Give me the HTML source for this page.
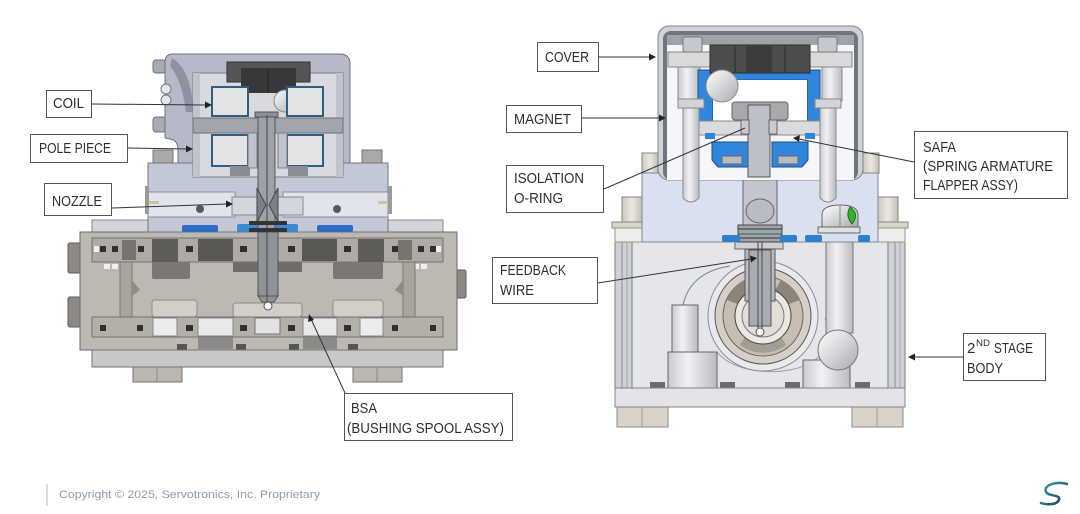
<!DOCTYPE html>
<html>
<head>
<meta charset="utf-8">
<style>
html,body{margin:0;padding:0;background:#fff;}
body{width:1080px;height:514px;overflow:hidden;}
svg{display:block;}
text{font-family:"Liberation Sans",sans-serif;fill:#2e2e2e;}
</style>
</head>
<body>
<svg width="1080" height="514" viewBox="0 0 1080 514" xmlns="http://www.w3.org/2000/svg">
<defs>
  <linearGradient id="ball" x1="0" y1="0" x2="1" y2="1">
    <stop offset="0" stop-color="#ffffff"/>
    <stop offset="1" stop-color="#a9abb0"/>
  </linearGradient>
  <linearGradient id="cyl" x1="0" y1="0" x2="1" y2="0">
    <stop offset="0" stop-color="#c9cace"/>
    <stop offset="0.4" stop-color="#f2f2f4"/>
    <stop offset="1" stop-color="#b9bbc0"/>
  </linearGradient>
  <linearGradient id="beige" x1="0" y1="0" x2="1" y2="0">
    <stop offset="0" stop-color="#cfc9be"/>
    <stop offset="0.5" stop-color="#ece8e1"/>
    <stop offset="1" stop-color="#c4beb3"/>
  </linearGradient>
  <linearGradient id="logo" x1="0" y1="0" x2="1" y2="1">
    <stop offset="0" stop-color="#3aa0a8"/>
    <stop offset="1" stop-color="#1d3a60"/>
  </linearGradient>
</defs>

<!-- ================= LEFT ASSEMBLY ================= -->
<!-- side connectors -->
<rect x="68" y="243" width="13" height="30" rx="2" fill="#8d8983" stroke="#5e5b57"/>
<rect x="68" y="297" width="13" height="30" rx="2" fill="#8d8983" stroke="#5e5b57"/>
<rect x="456" y="270" width="10" height="28" rx="2" fill="#8d8983" stroke="#5e5b57"/>
<!-- feet -->
<rect x="133" y="366" width="49" height="16" fill="#bbb6ae" stroke="#77736d"/>
<line x1="157" y1="368" x2="157" y2="382" stroke="#8b867f"/>
<rect x="353" y="366" width="49" height="16" fill="#bbb6ae" stroke="#77736d"/>
<line x1="377" y1="368" x2="377" y2="382" stroke="#8b867f"/>
<!-- thin plate -->
<rect x="92" y="220" width="351" height="12" fill="#d2d4da" stroke="#858892"/>
<!-- main body -->
<rect x="80" y="232" width="377" height="118" fill="#bcb8b2" stroke="#6c6965"/>
<!-- upper row -->
<rect x="92" y="238" width="351" height="24" fill="#aeaaa4" stroke="#75716c"/>
<rect x="152" y="239" width="26" height="23" fill="#5f5d5a"/>
<rect x="198" y="239" width="35" height="22" fill="#5a5855"/>
<rect x="302" y="239" width="35" height="22" fill="#5a5855"/>
<rect x="358" y="239" width="26" height="23" fill="#5f5d5a"/>
<g fill="#2f2f2f">
  <rect x="100" y="246" width="6" height="6"/><rect x="112" y="246" width="6" height="6"/>
  <rect x="138" y="246" width="6" height="6"/><rect x="186" y="246" width="7" height="6"/>
  <rect x="240" y="246" width="7" height="6"/><rect x="288" y="246" width="7" height="6"/>
  <rect x="344" y="246" width="7" height="6"/><rect x="392" y="246" width="6" height="6"/>
  <rect x="418" y="246" width="6" height="6"/><rect x="430" y="246" width="6" height="6"/>
</g>
<g fill="#f0f0f0">
  <rect x="94" y="246" width="5" height="6"/><rect x="436" y="246" width="5" height="6"/>
  <rect x="104" y="264" width="6" height="5"/><rect x="112" y="264" width="6" height="5"/>
  <rect x="413" y="264" width="6" height="5"/><rect x="421" y="264" width="6" height="5"/>
</g>
<rect x="122" y="240" width="14" height="20" fill="#777470"/>
<rect x="398" y="240" width="14" height="20" fill="#777470"/>
<!-- cavities -->
<rect x="152" y="262" width="38" height="17" rx="2" fill="#7a7774"/>
<rect x="233" y="262" width="69" height="10" fill="#6e6b68"/>
<rect x="333" y="262" width="50" height="17" rx="2" fill="#7a7774"/>
<rect x="120" y="262" width="12" height="55" fill="#a8a49e" stroke="#7b7873"/>
<rect x="403" y="262" width="12" height="55" fill="#a8a49e" stroke="#7b7873"/>
<path d="M132,280 L140,290 L132,296 Z" fill="#8f8b85"/>
<path d="M403,280 L395,290 L403,296 Z" fill="#8f8b85"/>
<rect x="152" y="300" width="45" height="17" rx="3" fill="#d2cec8" stroke="#8d8a85"/>
<rect x="233" y="303" width="69" height="14" rx="3" fill="#d2cec8" stroke="#8d8a85"/>
<rect x="333" y="300" width="50" height="17" rx="3" fill="#d2cec8" stroke="#8d8a85"/>
<!-- lower row -->
<rect x="92" y="317" width="351" height="20" fill="#b3afa9" stroke="#75716c"/>
<rect x="153" y="318" width="24" height="18" fill="#ececec" stroke="#888"/>
<rect x="198" y="318" width="35" height="18" fill="#e9e9e9" stroke="#888"/>
<rect x="255" y="318" width="25" height="16" fill="#e2e2e2" stroke="#777"/>
<rect x="303" y="318" width="34" height="18" fill="#e9e9e9" stroke="#888"/>
<rect x="360" y="318" width="23" height="18" fill="#ececec" stroke="#888"/>
<g fill="#2f2f2f">
  <rect x="100" y="325" width="6" height="6"/><rect x="137" y="325" width="6" height="6"/>
  <rect x="186" y="325" width="7" height="6"/><rect x="240" y="325" width="7" height="6"/>
  <rect x="288" y="325" width="7" height="6"/><rect x="344" y="325" width="7" height="6"/>
  <rect x="392" y="325" width="6" height="6"/><rect x="430" y="325" width="6" height="6"/>
</g>
<rect x="198" y="337" width="35" height="12" fill="#8c8a88"/>
<rect x="303" y="337" width="34" height="12" fill="#8c8a88"/>
<rect x="177" y="344" width="10" height="6" fill="#555"/>
<rect x="236" y="344" width="10" height="6" fill="#555"/>
<rect x="289" y="344" width="10" height="6" fill="#555"/>
<rect x="348" y="344" width="10" height="6" fill="#555"/>
<!-- bottom plate -->
<rect x="92" y="350" width="351" height="17" fill="#c9c8c6" stroke="#75736f"/>

<!-- nozzle block -->
<rect x="148" y="163" width="240" height="69" fill="#c3c8d6" stroke="#727684"/>
<rect x="148" y="192" width="87" height="25" fill="#e1e4ec" stroke="#8a8e9a"/>
<rect x="283" y="192" width="105" height="25" fill="#e1e4ec" stroke="#8a8e9a"/>
<rect x="232" y="197" width="25" height="18" fill="#d3d6dd" stroke="#888"/>
<rect x="278" y="197" width="25" height="18" fill="#d3d6dd" stroke="#888"/>
<circle cx="200" cy="209" r="4" fill="#55585f"/>
<circle cx="337" cy="209" r="4" fill="#55585f"/>
<rect x="149" y="201" width="10" height="3" fill="#c9c79a"/>
<rect x="378" y="201" width="10" height="3" fill="#c9c79a"/>
<rect x="145" y="186" width="4" height="28" fill="#9a9a98"/>
<rect x="388" y="186" width="4" height="28" fill="#9a9a98"/>
<!-- bolt heads on block -->
<rect x="153" y="150" width="20" height="13" fill="#a9a9a6" stroke="#777"/>
<rect x="362" y="150" width="20" height="13" fill="#a9a9a6" stroke="#777"/>
<!-- blue seals -->
<rect x="182" y="225" width="36" height="7" rx="2" fill="#2e6cc4"/>
<rect x="237" y="224" width="61" height="8" rx="2" fill="#3a8ad6"/>
<rect x="317" y="225" width="36" height="7" rx="2" fill="#2e6cc4"/>

<!-- housing -->
<rect x="153" y="60" width="13" height="13" rx="3" fill="#a7abb5" stroke="#6e727c"/>
<rect x="153" y="117" width="13" height="15" rx="3" fill="#a7abb5" stroke="#6e727c"/>
<path d="M178,163 L178,150 Q178,140 170,139 L165,138 L165,62 Q165,54 173,54 L340,54 Q350,54 350,64 L350,163 Z" fill="#b6bac8" stroke="#6e7280"/>
<path d="M172,58 Q192,70 193,112 L186,112 Q182,80 170,66 Z" fill="#8e929f"/>
<circle cx="166" cy="89" r="5" fill="#e6e7ea" stroke="#777"/>
<circle cx="166" cy="100" r="5" fill="#e6e7ea" stroke="#777"/>
<!-- cavity -->
<rect x="193" y="73" width="150" height="104" fill="#d9dadf" stroke="#767a86"/>
<rect x="193" y="73" width="7" height="104" fill="#c1c4cd"/>
<rect x="336" y="73" width="7" height="104" fill="#c1c4cd"/>
<!-- magnet -->
<rect x="227" y="62" width="83" height="20" fill="#555557" stroke="#333"/>
<rect x="241" y="68" width="55" height="25" fill="#38383a"/>
<line x1="268" y1="68" x2="268" y2="93" stroke="#222"/>
<!-- ball -->
<circle cx="285" cy="101" r="11" fill="url(#ball)" stroke="#888"/>
<!-- coils -->
<rect x="212" y="87" width="36" height="29" fill="#e3e3e6" stroke="#2e5f80" stroke-width="2"/>
<rect x="287" y="87" width="36" height="29" fill="#e3e3e6" stroke="#2e5f80" stroke-width="2"/>
<rect x="193" y="118" width="150" height="15" fill="#a2a5ad" stroke="#6b6e76"/>
<rect x="212" y="135" width="36" height="31" fill="#e3e3e6" stroke="#2e5f80" stroke-width="2"/>
<rect x="287" y="135" width="36" height="31" fill="#e3e3e6" stroke="#2e5f80" stroke-width="2"/>
<rect x="230" y="166" width="20" height="10" fill="#8a8d95"/>
<rect x="288" y="166" width="20" height="10" fill="#8a8d95"/>
<!-- shaft -->
<rect x="248" y="133" width="9" height="35" fill="#c0c3cb" stroke="#7a7d86"/>
<rect x="278" y="133" width="9" height="35" fill="#c0c3cb" stroke="#7a7d86"/>
<rect x="258" y="115" width="17" height="118" fill="#9ea1a9" stroke="#555"/>
<rect x="255" y="112" width="23" height="5" fill="#8d9098" stroke="#555"/>
<path d="M257,188 L266,205 L257,222 Z" fill="#7d8088" stroke="#444"/>
<path d="M278,188 L269,205 L278,222 Z" fill="#7d8088" stroke="#444"/>
<rect x="258" y="232" width="20" height="64" fill="#8f9299" stroke="#555"/>
<path d="M258,296 L262,302 L274,302 L278,296 Z" fill="#8f9299" stroke="#555"/>
<line x1="267" y1="115" x2="267" y2="302" stroke="#444" stroke-width="1"/>
<circle cx="268" cy="306" r="4" fill="#f4f4f4" stroke="#555"/>
<rect x="249" y="221" width="38" height="4" fill="#333"/>
<rect x="249" y="228" width="38" height="4" fill="#333"/>

<!-- ================= RIGHT ASSEMBLY ================= -->
<!-- feet -->
<rect x="617" y="407" width="51" height="20" fill="#d8d2c8" stroke="#8f8a82"/>
<line x1="642" y1="408" x2="642" y2="427" stroke="#a39d94"/>
<rect x="852" y="407" width="51" height="20" fill="#d8d2c8" stroke="#8f8a82"/>
<line x1="877" y1="408" x2="877" y2="427" stroke="#a39d94"/>
<!-- lower body -->
<rect x="615" y="242" width="290" height="146" fill="#e4e6ea" stroke="#6f737b"/>
<rect x="615" y="242" width="17" height="146" fill="#cfd1d6" stroke="#7b7f87"/>
<line x1="622" y1="242" x2="622" y2="388" stroke="#8a8e96"/>
<line x1="627" y1="242" x2="627" y2="388" stroke="#a4a8b0"/>
<rect x="888" y="242" width="17" height="146" fill="#cfd1d6" stroke="#7b7f87"/>
<line x1="895" y1="242" x2="895" y2="388" stroke="#8a8e96"/>
<line x1="900" y1="242" x2="900" y2="388" stroke="#a4a8b0"/>
<!-- volute -->
<path d="M683,305 C688,282 705,270 730,266" fill="none" stroke="#7d8087"/>
<path d="M717,352 C735,375 790,378 815,360 C830,348 830,330 825,318" fill="none" stroke="#9a9da3"/>
<circle cx="763" cy="316" r="55" fill="#e9eaed" stroke="#8b8e94"/>
<circle cx="763" cy="316" r="48" fill="#d6cfc6" stroke="#555"/>
<circle cx="763" cy="316" r="40" fill="#c7beb2" stroke="#6b655d"/>
<path d="M727,300 A38,38 0 0 1 745,280 L752,292 A25,25 0 0 0 740,305 Z" fill="#8a847b"/>
<path d="M800,300 A38,38 0 0 0 781,280 L774,292 A25,25 0 0 1 786,305 Z" fill="#8a847b"/>
<path d="M740,345 A38,38 0 0 0 786,345 L780,335 A25,25 0 0 1 746,335 Z" fill="#a59d92"/>
<circle cx="763" cy="316" r="28" fill="#ebe7e2" stroke="#444"/>
<circle cx="763" cy="316" r="21" fill="#e2ddd6" stroke="#777"/>
<!-- left cylinder -->
<rect x="672" y="305" width="26" height="47" fill="url(#cyl)" stroke="#666"/>
<rect x="668" y="352" width="49" height="36" fill="url(#cyl)" stroke="#666"/>
<!-- right tube + ball -->
<rect x="826" y="233" width="27" height="100" fill="url(#cyl)" stroke="#777"/>
<rect x="803" y="360" width="47" height="28" fill="url(#cyl)" stroke="#666"/>
<circle cx="838" cy="350" r="20" fill="url(#ball)" stroke="#777"/>
<!-- bottom bumps -->
<rect x="650" y="382" width="15" height="6" fill="#6a6a6a"/>
<rect x="720" y="382" width="15" height="6" fill="#6a6a6a"/>
<rect x="785" y="382" width="15" height="6" fill="#6a6a6a"/>
<rect x="855" y="382" width="15" height="6" fill="#6a6a6a"/>
<!-- bottom plate -->
<rect x="615" y="388" width="290" height="19" fill="#e3e4e7" stroke="#7f838b"/>
<!-- shaft holder in body -->
<rect x="735" y="242" width="48" height="7" fill="#cfd0d3" stroke="#666"/>
<rect x="745" y="249" width="30" height="52" fill="#b8babf" stroke="#555"/>
<rect x="749" y="250" width="22" height="76" fill="#a9acb2" stroke="#555"/>
<line x1="758" y1="175" x2="758" y2="328" stroke="#444"/>
<line x1="762" y1="175" x2="762" y2="328" stroke="#444"/>
<circle cx="760" cy="332" r="4" fill="#fff" stroke="#555"/>

<!-- side cylinders / bumps -->
<rect x="622" y="197" width="20" height="25" fill="url(#beige)" stroke="#8a857c"/>
<rect x="612" y="222" width="30" height="6" fill="#d9d4ca" stroke="#8a857c"/>
<rect x="615" y="228" width="27" height="14" fill="#efede8" stroke="#9a958c"/>
<rect x="878" y="197" width="20" height="25" fill="url(#beige)" stroke="#8a857c"/>
<rect x="878" y="222" width="30" height="6" fill="#d9d4ca" stroke="#8a857c"/>
<rect x="878" y="228" width="27" height="14" fill="#efede8" stroke="#9a958c"/>
<rect x="642" y="153" width="16" height="20" fill="url(#beige)" stroke="#8a857c"/>
<rect x="863" y="153" width="16" height="20" fill="url(#beige)" stroke="#8a857c"/>
<!-- block -->
<rect x="642" y="173" width="236" height="69" fill="#d9e1f1" stroke="#7e8696"/>
<!-- block internals -->
<rect x="743" y="177" width="34" height="48" fill="#c3c6cc" stroke="#666"/>
<ellipse cx="760" cy="211" rx="14" ry="12" fill="#b9bcc2" stroke="#666"/>
<rect x="738" y="225" width="44" height="17" fill="#9fa3aa" stroke="#444"/>
<line x1="738" y1="229" x2="782" y2="229" stroke="#333"/>
<line x1="738" y1="234" x2="782" y2="234" stroke="#2a6a5a"/>
<line x1="738" y1="238" x2="782" y2="238" stroke="#333"/>
<rect x="722" y="235" width="18" height="7" rx="2" fill="#2f7fd0"/>
<rect x="780" y="235" width="17" height="7" rx="2" fill="#2f7fd0"/>
<rect x="805" y="235" width="17" height="7" rx="2" fill="#2f7fd0"/>
<rect x="858" y="235" width="12" height="7" rx="2" fill="#2f7fd0"/>
<rect x="818" y="227" width="42" height="6" fill="#dfe0e3" stroke="#666"/>
<path d="M822,227 L822,215 Q822,205 840,205 Q858,205 858,215 L858,227 Z" fill="url(#ball)" stroke="#666"/>
<path d="M850,207 Q860,214 852,224 Q845,216 850,207 Z" fill="#36b030" stroke="#1e6e1a"/>
<line x1="840" y1="206" x2="840" y2="226" stroke="#888"/>

<!-- cover -->
<rect x="658" y="26" width="205" height="154" rx="11" fill="#cfd2d8" stroke="#80848d"/>
<rect x="663" y="31" width="195" height="149" rx="8" fill="#70757e"/>
<rect x="667" y="35" width="187" height="145" fill="#f5f6f8"/>
<rect x="667" y="35" width="187" height="10" fill="#9ea2ab"/>
<!-- cover contents -->
<rect x="668" y="52" width="49" height="15" fill="#d8d9db" stroke="#888"/>
<rect x="803" y="52" width="49" height="15" fill="#d8d9db" stroke="#888"/>
<rect x="683" y="37" width="19" height="15" rx="2" fill="#c5c8cf" stroke="#777"/>
<rect x="818" y="37" width="19" height="15" rx="2" fill="#c5c8cf" stroke="#777"/>
<rect x="678" y="67" width="22" height="34" fill="url(#cyl)" stroke="#888"/>
<rect x="822" y="67" width="20" height="34" fill="url(#cyl)" stroke="#888"/>
<!-- blue frame -->
<path d="M698,70 L820,70 L820,123 L807,123 L807,80 L713,80 L713,123 L698,123 Z" fill="#2f86dc" stroke="#1b4f8a"/>
<rect x="713" y="80" width="94" height="43" fill="#ffffff"/>
<rect x="710" y="45" width="100" height="28" fill="#4d4d4f" stroke="#2a2a2a"/>
<rect x="746" y="45" width="26" height="28" fill="#3c3c3e"/>
<line x1="735" y1="45" x2="735" y2="73" stroke="#2a2a2a"/>
<line x1="785" y1="45" x2="785" y2="73" stroke="#2a2a2a"/>
<circle cx="722" cy="86" r="16" fill="url(#ball)" stroke="#888"/>
<!-- armature -->
<rect x="698" y="121" width="122" height="14" fill="#dadbdf" stroke="#888"/>
<rect x="705" y="133" width="10" height="6" fill="#2f86dc"/>
<rect x="805" y="133" width="10" height="6" fill="#2f86dc"/>
<path d="M712,142 L748,142 L748,167 L718,167 L712,160 Z" fill="#2f86dc" stroke="#1b4f8a"/>
<path d="M808,142 L772,142 L772,167 L802,167 L808,160 Z" fill="#2f86dc" stroke="#1b4f8a"/>
<rect x="722" y="156" width="20" height="8" fill="#b9bcc2" stroke="#666"/>
<rect x="778" y="156" width="20" height="8" fill="#b9bcc2" stroke="#666"/>
<rect x="732" y="102" width="56" height="18" rx="3" fill="#a8a9ad" stroke="#666"/>
<!-- center shaft -->
<rect x="748" y="105" width="22" height="72" fill="#bdc0c6" stroke="#555"/>
<rect x="741" y="120" width="8" height="14" fill="#c9cbd0" stroke="#666"/>
<rect x="769" y="120" width="8" height="14" fill="#c9cbd0" stroke="#666"/>
<!-- screws -->
<rect x="678" y="99" width="26" height="9" fill="#d3d4d7" stroke="#888"/>
<path d="M683,108 L699,108 L699,198 Q691,206 683,198 Z" fill="url(#cyl)" stroke="#888"/>
<rect x="815" y="99" width="26" height="9" fill="#d3d4d7" stroke="#888"/>
<path d="M820,108 L836,108 L836,198 Q828,206 820,198 Z" fill="url(#cyl)" stroke="#888"/>

<!-- ================= LABELS & LEADERS ================= -->
<g fill="#fff" stroke="#555" stroke-width="1">
  <rect x="46.5" y="90.5" width="45" height="27"/>
  <rect x="30.5" y="134.5" width="97" height="28"/>
  <rect x="44.5" y="183.5" width="67" height="32"/>
  <rect x="344.5" y="393.5" width="168" height="47"/>
  <rect x="537.5" y="42.5" width="61" height="29"/>
  <rect x="506.5" y="105.5" width="75" height="27"/>
  <rect x="506.5" y="165.5" width="97" height="47"/>
  <rect x="492.5" y="257.5" width="105" height="46"/>
  <rect x="914.5" y="131.5" width="153" height="67"/>
  <rect x="963.5" y="333.5" width="82" height="47"/>
</g>
<g font-size="15">
  <text x="53" y="108" textLength="31" lengthAdjust="spacingAndGlyphs">COIL</text>
  <text x="39" y="153" textLength="72" lengthAdjust="spacingAndGlyphs">POLE PIECE</text>
  <text x="52" y="206" textLength="50" lengthAdjust="spacingAndGlyphs">NOZZLE</text>
  <text x="351" y="413" textLength="26" lengthAdjust="spacingAndGlyphs">BSA</text>
  <text x="347" y="433" textLength="157" lengthAdjust="spacingAndGlyphs">(BUSHING SPOOL ASSY)</text>
  <text x="545" y="62" textLength="44" lengthAdjust="spacingAndGlyphs">COVER</text>
  <text x="514" y="124" textLength="57" lengthAdjust="spacingAndGlyphs">MAGNET</text>
  <text x="514" y="183" textLength="70" lengthAdjust="spacingAndGlyphs">ISOLATION</text>
  <text x="514" y="203" textLength="49" lengthAdjust="spacingAndGlyphs">O-RING</text>
  <text x="500" y="275" textLength="66" lengthAdjust="spacingAndGlyphs">FEEDBACK</text>
  <text x="500" y="295" textLength="34" lengthAdjust="spacingAndGlyphs">WIRE</text>
  <text x="923" y="152" textLength="33" lengthAdjust="spacingAndGlyphs">SAFA</text>
  <text x="923" y="171" textLength="130" lengthAdjust="spacingAndGlyphs">(SPRING ARMATURE</text>
  <text x="923" y="190" textLength="95" lengthAdjust="spacingAndGlyphs">FLAPPER ASSY)</text>
  <text x="967" y="353">2</text>
  <text x="976" y="346" font-size="9" textLength="14" lengthAdjust="spacingAndGlyphs">ND</text>
  <text x="994" y="353" textLength="39" lengthAdjust="spacingAndGlyphs">STAGE</text>
  <text x="967" y="373" textLength="36" lengthAdjust="spacingAndGlyphs">BODY</text>
</g>
<g stroke="#333" stroke-width="1" fill="none">
  <line x1="92" y1="104" x2="206" y2="105"/>
  <line x1="128" y1="148" x2="187" y2="149"/>
  <line x1="112" y1="208" x2="227" y2="204"/>
  <line x1="345" y1="393" x2="311" y2="319"/>
  <line x1="599" y1="57" x2="650" y2="57"/>
  <line x1="582" y1="118" x2="660" y2="118"/>
  <line x1="604" y1="189" x2="745" y2="128"/>
  <line x1="914" y1="162" x2="799" y2="139"/>
  <line x1="598" y1="283" x2="751" y2="259"/>
  <line x1="963" y1="357" x2="914" y2="357"/>
</g>
<g fill="#222">
  <path d="M212,105 L205,101.5 L205,108.5 Z"/>
  <path d="M193,149 L186,145.5 L186,152.5 Z"/>
  <path d="M233,204 L226,200.5 L226,207.5 Z"/>
  <path d="M309,314 L308,322 L314,320 Z"/>
  <path d="M656,57 L649,53.5 L649,60.5 Z"/>
  <path d="M666,118 L659,114.5 L659,121.5 Z"/>
  <path d="M793,138 L800,135 L799,142 Z"/>
  <path d="M757,258 L750,255.5 L751,262.5 Z"/>
  <path d="M908,357 L915,353.5 L915,360.5 Z"/>
</g>

<!-- ================= FOOTER ================= -->
<line x1="47" y1="484" x2="47" y2="506" stroke="#b5b8bd" stroke-width="1"/>
<text x="59" y="498" font-size="11" style="fill:#8e9aaa" textLength="261" lengthAdjust="spacingAndGlyphs">Copyright © 2025, Servotronics, Inc. Proprietary</text>
<path d="M1067,484 C1056,481 1043,485 1046,492 C1049,497 1061,494 1059,500 C1057,505 1046,505 1041,503" fill="none" stroke="url(#logo)" stroke-width="2.5" stroke-linecap="round"/>
</svg>
</body>
</html>
